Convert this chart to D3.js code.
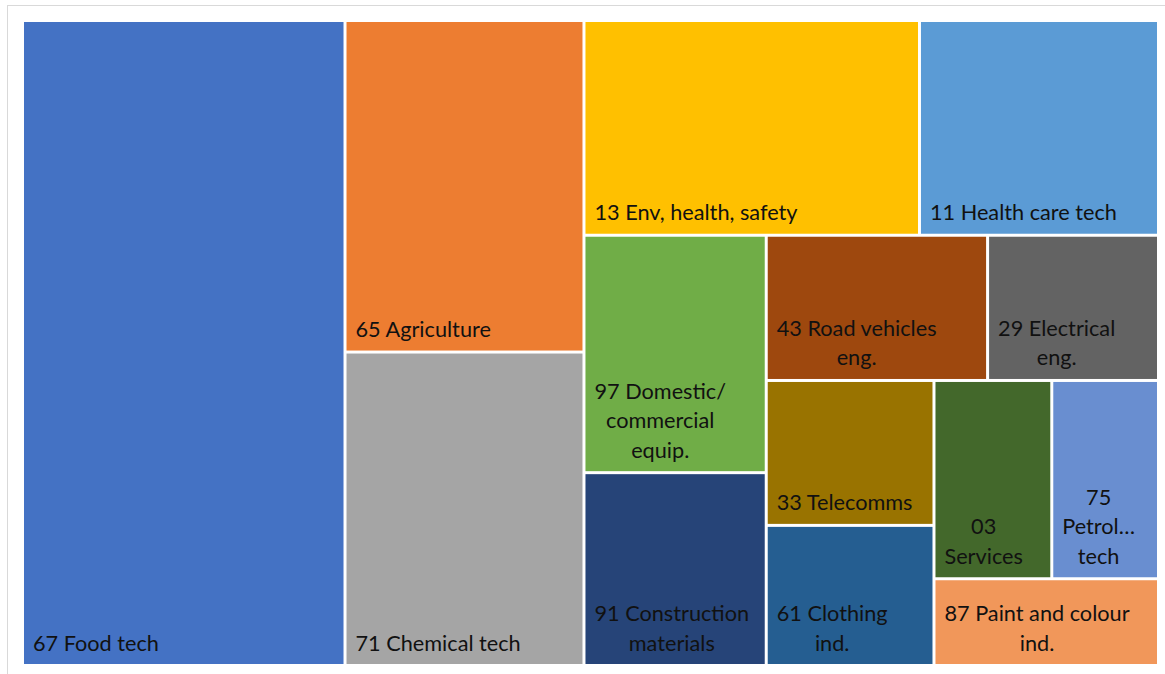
<!DOCTYPE html>
<html>
<head>
<meta charset="utf-8">
<script src="https://cdn.jsdelivr.net/npm/d3@7"></script>
<style>
  html, body { margin: 0; padding: 0; background: #fff; }
  svg { display: block; }
</style>
</head>
<body>
<svg id="chart" width="1165" height="674"></svg>
<script>
// ---- data ----
const categories = [
  "67 Food tech", "65 Agriculture", "71 Chemical tech", "13 Env, health, safety",
  "11 Health care tech", "97 Domestic/commercial equip.", "91 Construction materials",
  "43 Road vehicles eng.", "29 Electrical eng.", "33 Telecomms", "61 Clothing ind.",
  "03 Services", "75 Petroleum tech", "87 Paint and colour ind."
];
// displayed label lines (as wrapped / truncated in the picture)
const labelLines = [
  ["67 Food tech"], ["65 Agriculture"], ["71 Chemical tech"], ["13 Env, health, safety"],
  ["11 Health care tech"], ["97 Domestic/", "commercial", "equip."], ["91 Construction", "materials"],
  ["43 Road vehicles", "eng."], ["29 Electrical", "eng."], ["33 Telecomms"], ["61 Clothing", "ind."],
  ["03", "Services"], ["75", "Petrol…", "tech"], ["87 Paint and colour", "ind."]
];
const values = [284.1, 108.2, 102.3, 98.4, 70.1, 59.1, 48.0, 43.9, 33.9, 33.2, 32.1, 31.9, 28.9, 26.6];
const colors = ["#4472C4", "#ED7D31", "#A5A5A5", "#FFC000", "#5B9BD5", "#70AD47", "#264478",
                "#9E480E", "#636363", "#997300", "#255E91", "#43682B", "#698ED0", "#F1975A"];

// ---- layout ----
const svg = d3.select("#chart");
const X0 = 24, Y0 = 22, W = 1133, H = 642;
const fontSize = 21.7, lineH = 29.5, padL = 9, padB = 13.5;

// chart border (left & top visible)
svg.append("rect").attr("x", 7.5).attr("y", 5.5).attr("width", 1165).attr("height", 680)
  .attr("fill", "#fff").attr("stroke", "#d9d9d9").attr("stroke-width", 1);

const data = {name: "root", children: categories.map((c, i) => ({name: c, lines: labelLines[i], value: values[i], color: colors[i]}))};
const root = d3.hierarchy(data).sum(d => d.value || 0);
d3.treemap().size([W, H]).paddingInner(3).tile(d3.treemapSquarify.ratio(1))(root);

const g = svg.append("g").attr("transform", `translate(${X0},${Y0})`);
const cell = g.selectAll("g.cell").data(root.leaves()).join("g").attr("class", "cell");
cell.append("rect")
  .attr("x", d => d.x0).attr("y", d => d.y0)
  .attr("width", d => d.x1 - d.x0).attr("height", d => d.y1 - d.y0)
  .attr("fill", d => d.data.color);

cell.each(function(d) {
  const sel = d3.select(this);
  const lines = d.data.lines;
  const texts = lines.map((t, i) => sel.append("text")
    .attr("font-family", "Lato, 'Open Sans', sans-serif")
    .attr("font-size", fontSize)
    .attr("fill", "#111")
    .attr("y", d.y1 - padB - (lines.length - 1 - i) * lineH)
    .text(t));
  const widths = texts.map(t => t.node().getComputedTextLength());
  const maxW = d3.max(widths);
  texts.forEach((t, i) => t.attr("x", d.x0 + padL + (maxW - widths[i]) / 2));
});
</script>
</body>
</html>
